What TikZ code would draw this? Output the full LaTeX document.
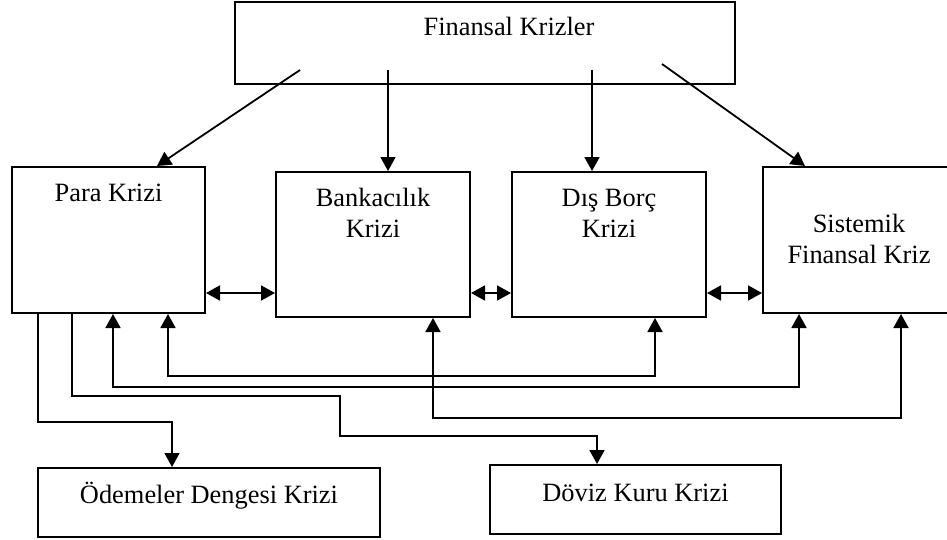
\documentclass[tikz,border=0pt]{standalone}
\usepackage{fontspec}
\setmainfont{Liberation Serif}
\usetikzlibrary{arrows.meta,positioning,calc}

\begin{document}
\begin{tikzpicture}[
x=0.5pt, y=-0.5pt,
boxnode/.style={rectangle, draw, line width=1pt, inner sep=0pt},
txtnode/.style={align=center, inner sep=0pt, font=\fontsize{13.2}{15.5}\selectfont},
linkarr/.style={line width=0.9pt, -{Triangle[length=7pt,width=7.5pt]}},
botharr/.style={line width=0.9pt, {Triangle[length=7pt,width=7.5pt]}-{Triangle[length=7pt,width=7.5pt]}},
]
\clip (0,0) rectangle (947,540);
%Nodes
\node[boxnode, minimum width=250pt, minimum height=41pt,
  label={[txtnode, anchor=base, xshift=12pt, yshift=-17.3pt]north:Finansal Krizler}] (fin) at (485,43) {};
\node[boxnode, minimum width=96.5pt, minimum height=73pt,
  label={[txtnode, anchor=base, yshift=-17.5pt]north:Para Krizi}] (para) at (108.5,240) {};
\node[boxnode, minimum width=97pt, minimum height=72.5pt,
  label={[txtnode, anchor=north, yshift=-8.5pt]north:{Bankacılık\\Krizi}}] (bank) at (373,244.5) {};
\node[boxnode, minimum width=97pt, minimum height=72.5pt,
  label={[txtnode, anchor=north, yshift=-9pt]north:{Dış Borç\\Krizi}}] (dis) at (609,244.5) {};
\node[boxnode, minimum width=96pt, minimum height=73pt,
  label={[txtnode, anchor=north, yshift=-24pt]north:{Sistemik\\Finansal Kriz}}] (sis) at (859,240) {};
\node[boxnode, minimum width=171pt, minimum height=34.5pt,
  label={[txtnode, anchor=base, yshift=-18pt]north:Ödemeler Dengesi Krizi}] (odeme) at (209,502.5) {};
\node[boxnode, minimum width=145.5pt, minimum height=34.5pt,
  label={[txtnode, anchor=base, yshift=-18.5pt]north:Döviz Kuru Krizi}] (doviz) at (635.5,499.5) {};

%Arrows from the top box
\coordinate (f1) at (300,70);
\coordinate (f2) at (388,70);
\coordinate (f3) at (592,70);
\coordinate (f4) at (662,64);
\draw[linkarr] (f1) -- (para.north -| 157,0);
\draw[linkarr] (f2) -- (bank.north -| 388,0);
\draw[linkarr] (f3) -- (dis.north -| 592,0);
\draw[linkarr] (f4) -- (sis.north -| 805,0);

%Links between the crisis boxes
\draw[botharr] (para.east |- 0,293) -- (bank.west |- 0,293);
\draw[botharr] (bank.east |- 0,293) -- (dis.west |- 0,293);
\draw[botharr] (dis.east |- 0,293) -- (sis.west |- 0,293);

%Lines below
\draw[linkarr] (para.south -| 38,0) |- (172,422) -- (odeme.north -| 172,0);
\draw[linkarr] (para.south -| 72,0) |- (340,396) |- (597,436) -- (doviz.north -| 597,0);
\draw[botharr] (para.south -| 113,0) |- (799,387) -- (sis.south -| 799,0);
\draw[botharr] (para.south -| 168,0) |- (655,376) -- (dis.south -| 655,0);
\draw[botharr] (bank.south -| 433,0) |- (901,418) -- (sis.south -| 901,0);
\end{tikzpicture}
\end{document}
